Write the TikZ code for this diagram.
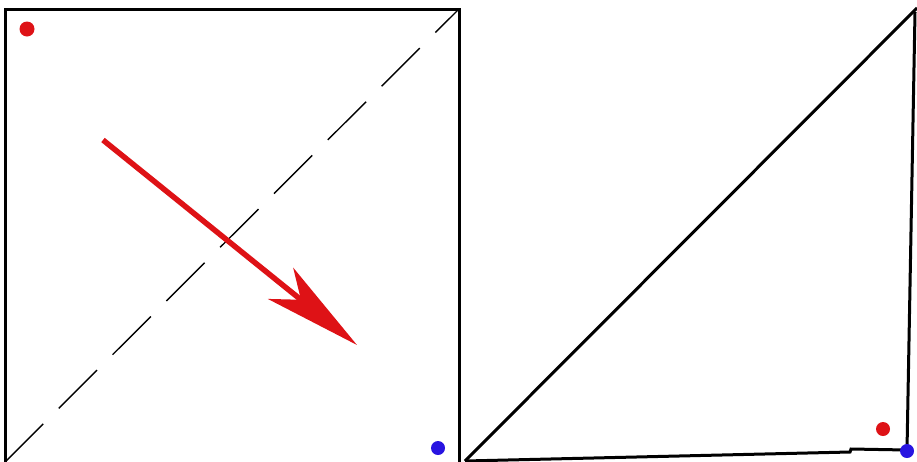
\documentclass[tikz,border=0pt]{standalone}
\usepackage{xcolor}
\usepackage{tikz}
\usetikzlibrary{arrows.meta}

\definecolor{rojo}{RGB}{222,18,22}
\definecolor{azul}{RGB}{40,20,225}

\begin{document}
\begin{tikzpicture}[
  x=1pt, y=-1pt,
  borde/.style={line width=3pt},
  diag/.style={line width=1.4pt, dash pattern=on 54pt off 22pt},
  punto/.style={circle, inner sep=0pt, minimum size=#1},
  puntorojo/.style={punto=15pt, fill=rojo},
  puntoazul/.style={punto=14pt, fill=azul},
  flecha/.style={draw=rojo, fill=rojo, line width=5.5pt,
                 -{Stealth[length=98pt, width=40pt, inset=26pt]}}
]
\useasboundingbox (0,0) rectangle (917,461);

% ---------- Cuadrado (izquierda) ----------
\coordinate (sqbl) at (5,462);
\coordinate (sqtl) at (5,9);
\coordinate (sqtr) at (459,9);
\coordinate (sqbr) at (459,462);
\draw[borde] (sqbl) -- (sqtl) -- (sqtr) -- (sqbr);
\draw[diag] (sqbl) -- (sqtr);

\node[puntorojo] (r1) at (27,29) {};
\node[puntoazul] (b1) at (438,448) {};

% ---------- Flecha ----------
\coordinate (fini) at (103,140);
\coordinate (ffin) at (357,345);
\draw[flecha] (fini) -- (ffin);

% ---------- Triangulo (derecha) ----------
\coordinate (tbl) at (465,461);
\coordinate (ttr) at (917,8);
\coordinate (tbr) at (907,450);
\draw[borde] (tbl) -- (ttr);
\draw[borde] (915,12) -- (tbr);
\draw[borde] (tbl) -- (850,452) -- (851,449) -- (tbr);

\node[puntorojo, minimum size=14pt] (r2) at (883,429) {};
\node[puntoazul] (b2) at (907,451) {};

\end{tikzpicture}
\end{document}
